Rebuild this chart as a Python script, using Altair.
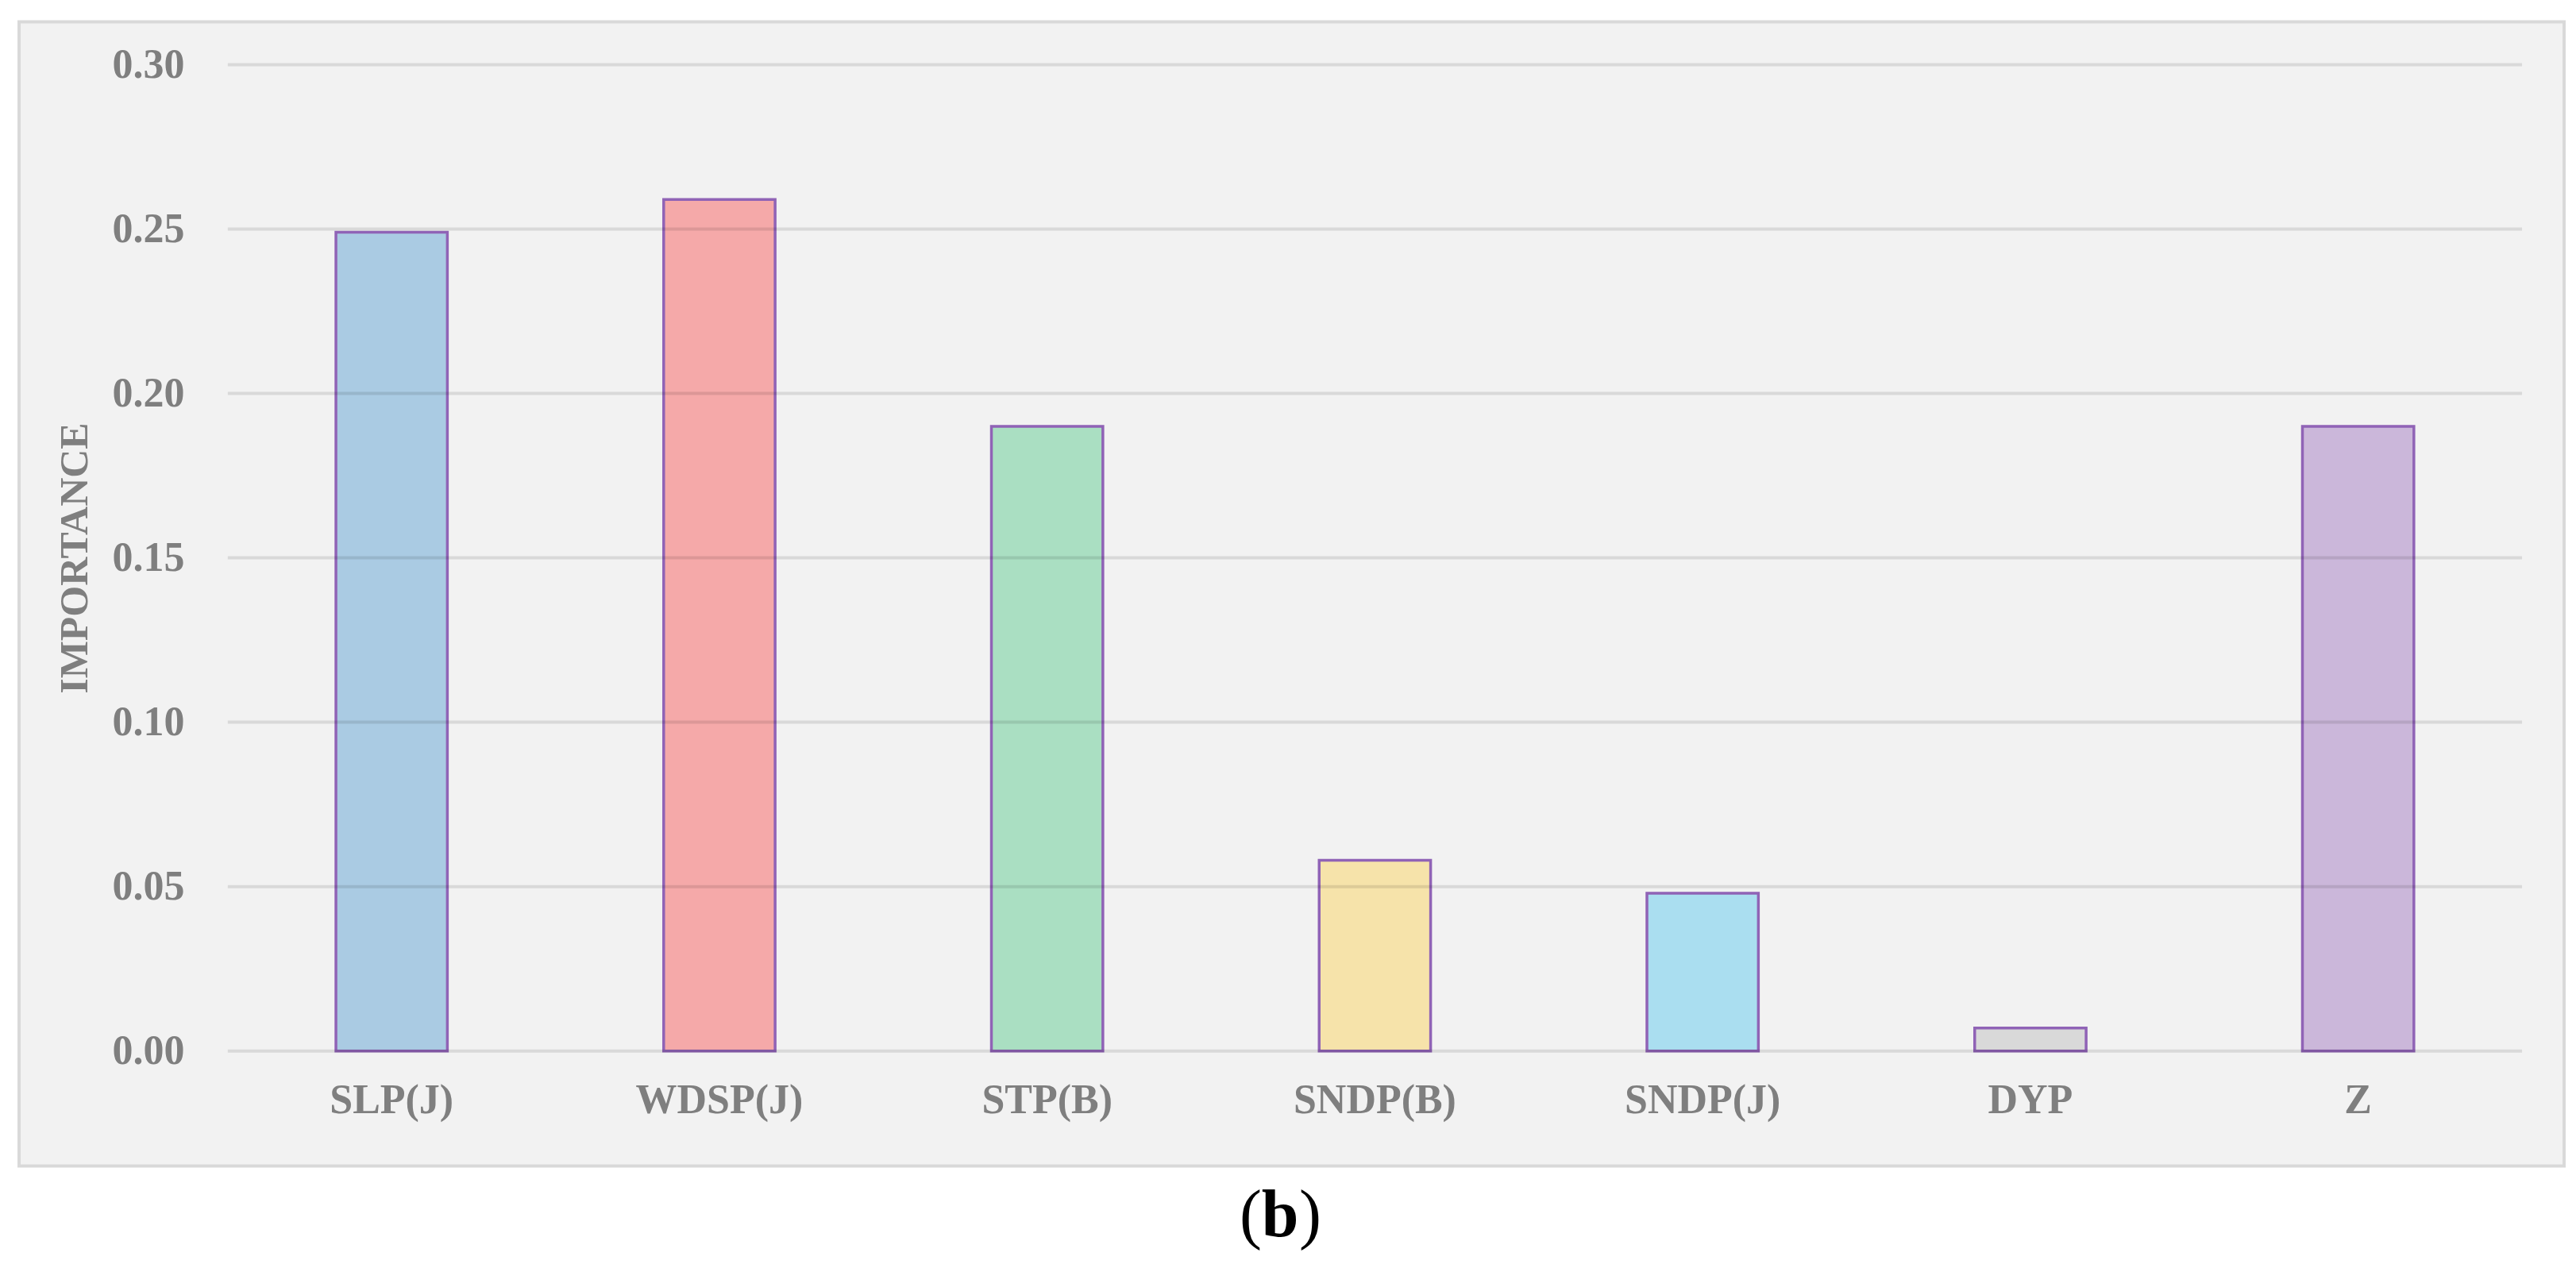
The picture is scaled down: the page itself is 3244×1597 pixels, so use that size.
import altair as alt
import pandas as pd

categories = ["SLP(J)", "WDSP(J)", "STP(B)", "SNDP(B)", "SNDP(J)", "DYP", "Z"]
importance = [0.249, 0.259, 0.190, 0.058, 0.048, 0.007, 0.190]
bar_colors = ["#aacbe3", "#f5a9a9", "#aadfc2", "#f6e3aa", "#aadef0", "#d9d9d9", "#cbb7da"]
y_ticks = [0.0, 0.05, 0.10, 0.15, 0.20, 0.25, 0.30]

W, H = 2891, 1243
FONT = "Liberation Serif"
GRAY = "#7f7f7f"

df = pd.DataFrame({"feature": categories, "value": importance})
ticks_df = pd.DataFrame({"tick": y_ticks})
one = pd.DataFrame({"k": [0]})

yscale = alt.Scale(domain=[0, 0.3], nice=False, zero=True)
y_axis = alt.Axis(title="IMPORTANCE", values=y_ticks, format=".2f",
                  labelFont=FONT, labelFontSize=52, labelFontWeight="bold",
                  labelColor=GRAY, labelPadding=55, ticks=False, tickSize=0,
                  domain=False, grid=False, titleFont=FONT, titleFontSize=50,
                  titleFontWeight="bold", titleColor=GRAY, titlePadding=21,
                  zindex=1)

background = alt.Chart(one).mark_rect(
    fill="#f2f2f2", stroke="#d9d9d9", strokeWidth=4
).encode(
    x=alt.value(-263), x2=alt.value(W + 53),
    y=alt.value(-54), y2=alt.value(H + 145),
)

bars = alt.Chart(df).mark_bar(stroke="#9063b6", strokeWidth=3.5).encode(
    x=alt.X("feature:N", sort=categories,
            scale=alt.Scale(paddingInner=0.66, paddingOuter=0.33),
            axis=alt.Axis(title=None, labelAngle=0, labelFont=FONT, labelFontSize=52,
                          labelFontWeight="bold", labelColor=GRAY, labelPadding=37,
                          labelLimit=0, ticks=False, tickSize=0, domain=False,
                          grid=False, zindex=1)),
    y=alt.Y("value:Q", scale=yscale, axis=y_axis),
    color=alt.Color("feature:N", scale=alt.Scale(domain=categories, range=bar_colors),
                    legend=None),
)

grid = alt.Chart(ticks_df).mark_rule(color="black", opacity=0.1, strokeWidth=4).encode(
    y=alt.Y("tick:Q", scale=yscale, axis=y_axis),
    x=alt.value(0), x2=alt.value(W),
)

cap_y = H + 233
cap_open = alt.Chart(one).mark_text(
    text="(", font=FONT, fontSize=84, color="black", align="left", baseline="alphabetic"
).encode(x=alt.value(1275), y=alt.value(cap_y))
cap_b = alt.Chart(one).mark_text(
    text="b", font=FONT, fontSize=84, fontWeight="bold", color="black",
    align="center", baseline="alphabetic"
).encode(x=alt.value(1326), y=alt.value(cap_y))
cap_close = alt.Chart(one).mark_text(
    text=")", font=FONT, fontSize=84, color="black", align="left", baseline="alphabetic"
).encode(x=alt.value(1350), y=alt.value(cap_y))

chart = alt.layer(background, bars, grid, cap_open, cap_b, cap_close).properties(
    width=W, height=H,
    padding={"left": 14, "top": 17, "right": 5, "bottom": 5},
    background="white",
).configure_view(stroke="transparent")

chart.save("out.html", embed_options={"renderer": "svg", "actions": False})
